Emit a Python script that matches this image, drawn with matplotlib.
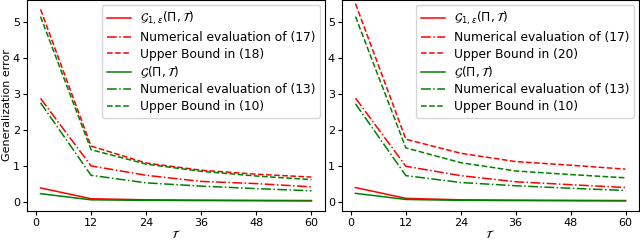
import numpy as np
import matplotlib
matplotlib.use("Agg")
import matplotlib.pyplot as plt

FS = 8
LFS = 8.8
plt.rcParams['font.size'] = FS

T = [1, 12, 24, 36, 48, 60]

# left panel
l_g1_sim = [0.39, 0.09, 0.06, 0.05, 0.045, 0.04]
l_g1_num = [2.87, 1.00, 0.74, 0.57, 0.51, 0.42]
l_g1_bnd = [5.34, 1.55, 1.08, 0.88, 0.77, 0.69]
l_g_sim = [0.23, 0.06, 0.045, 0.04, 0.035, 0.03]
l_g_num = [2.75, 0.74, 0.53, 0.44, 0.37, 0.31]
l_g_bnd = [5.14, 1.45, 1.05, 0.85, 0.72, 0.62]

# right panel
r_g1_sim = [0.40, 0.10, 0.06, 0.05, 0.045, 0.04]
r_g1_num = [2.88, 0.99, 0.73, 0.56, 0.48, 0.40]
r_g1_bnd = [5.50, 1.74, 1.35, 1.12, 1.02, 0.91]
r_g_sim = [0.24, 0.07, 0.045, 0.04, 0.035, 0.03]
r_g_num = [2.72, 0.73, 0.54, 0.45, 0.38, 0.32]
r_g_bnd = [5.14, 1.50, 1.09, 0.86, 0.76, 0.67]

lab_g1 = r'$\mathcal{G}_{1,\varepsilon}(\Pi,\mathcal{T})$'
lab_g = r'$\mathcal{G}(\Pi,\mathcal{T})$'

fig = plt.figure(figsize=(6.4, 2.4), dpi=100)
ax1 = fig.add_axes([27 / 640, 29 / 240, 298 / 640, 211 / 240])
ax2 = fig.add_axes([342 / 640, 29 / 240, 297 / 640, 211 / 240])


def panel(ax, g1s, g1n, g1b, gs, gn, gb, eq):
    ax.plot(T, g1s, color='r', lw=1.1, label=lab_g1)
    ax.plot(T, g1n, color='r', lw=1.1, ls='-.', label='Numerical evaluation of (17)')
    ax.plot(T, g1b, color='r', lw=1.1, ls='--', label='Upper Bound in (%d)' % eq)
    ax.plot(T, gs, color='g', lw=1.1, label=lab_g)
    ax.plot(T, gn, color='g', lw=1.1, ls='-.', label='Numerical evaluation of (13)')
    ax.plot(T, gb, color='g', lw=1.1, ls='--', label='Upper Bound in (10)')
    ax.set_xticks([0, 12, 24, 36, 48, 60])
    ax.set_yticks([0, 1, 2, 3, 4, 5])
    ax.set_xlim(-1.95, 62.95)
    ax.set_ylim(-0.25, 5.6)
    ax.set_xlabel(r'$\mathcal{T}$', labelpad=0)
    ax.tick_params(length=3, pad=2)
    ax.legend(loc='upper right', fontsize=LFS, borderaxespad=0.4,
              labelspacing=0.3, handletextpad=0.7)


panel(ax1, l_g1_sim, l_g1_num, l_g1_bnd, l_g_sim, l_g_num, l_g_bnd, 18)
panel(ax2, r_g1_sim, r_g1_num, r_g1_bnd, r_g_sim, r_g_num, r_g_bnd, 20)
ax1.set_ylabel('Generalization error', labelpad=1)

fig.savefig('out.png', dpi=100)
